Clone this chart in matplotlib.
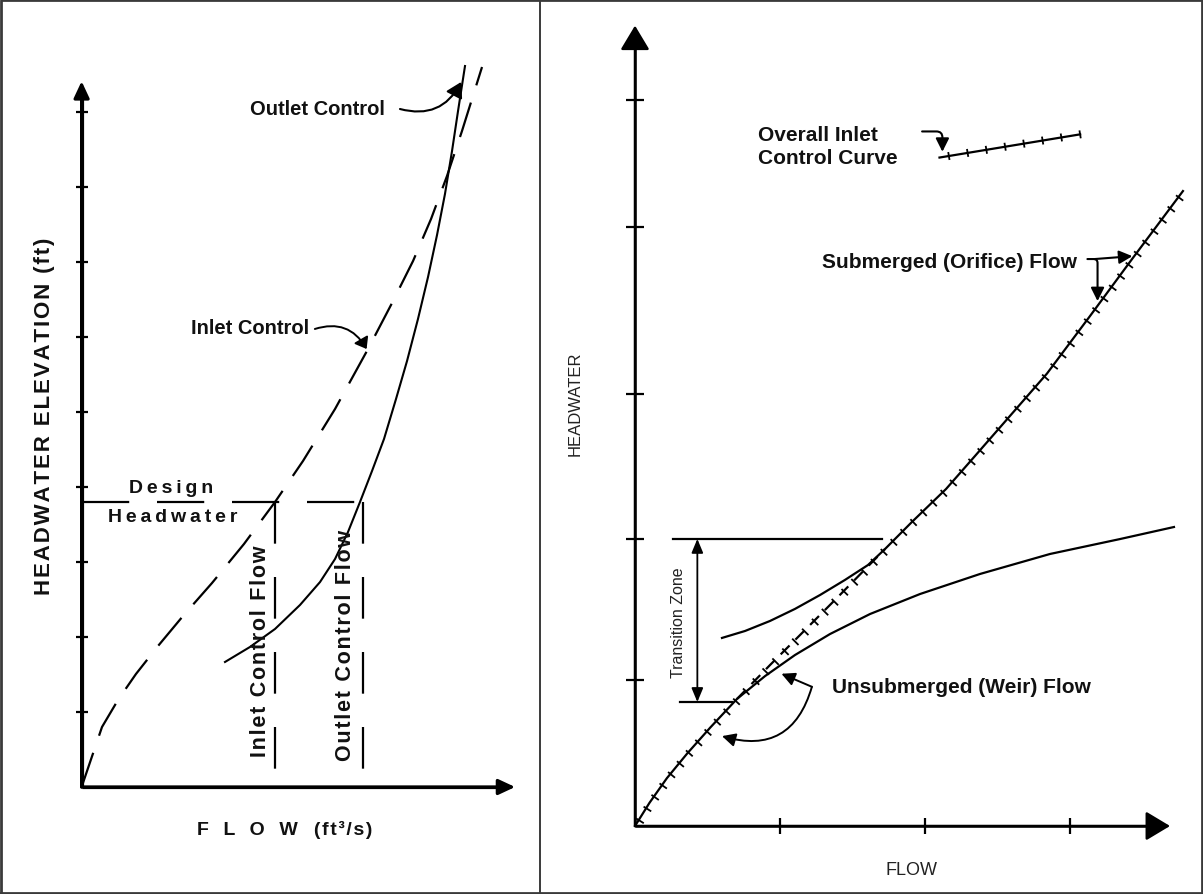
import numpy as np
import matplotlib
matplotlib.use("Agg")
import matplotlib.pyplot as plt
from matplotlib.lines import Line2D
from matplotlib.collections import LineCollection

plt.rcParams['lines.scale_dashes'] = False
plt.rcParams['font.family'] = ['Liberation Sans', 'DejaVu Sans']

# ---------------- Left diagram: inlet vs. outlet control ----------------
left_head_ticks = [1, 2, 3, 4, 5, 6, 7, 8, 9]
inlet_flow = [0.0, 0.272, 0.485, 0.725, 1.019, 1.352, 1.739, 2.165, 2.579, 2.952,
              3.379, 3.819, 4.139, 4.419, 4.659, 4.872, 5.072, 5.339]
inlet_head = [0.0, 0.800, 1.160, 1.507, 1.880, 2.280, 2.720, 3.240, 3.800, 4.347,
              5.040, 5.840, 6.453, 7.013, 7.573, 8.147, 8.747, 9.600]
outlet_flow = [1.912, 2.245, 2.579, 2.912, 3.179, 3.379, 3.552, 3.712, 3.872, 4.032,
               4.192, 4.339, 4.485, 4.619, 4.739, 4.845, 4.939, 5.019, 5.112]
outlet_head = [1.667, 1.867, 2.107, 2.427, 2.733, 3.040, 3.400, 3.800, 4.213, 4.640,
               5.173, 5.680, 6.240, 6.800, 7.360, 7.907, 8.480, 9.013, 9.613]
design_headwater = 3.80
inlet_control_flow = 2.58
outlet_control_flow = 3.75

# ---------------- Right diagram: inlet control regimes ----------------
right_head_ticks = [1.01, 1.98, 2.98, 4.13, 5.01]
right_flow_ticks = [1, 2, 3]
weir_flow = [0.0, 0.10, 0.22, 0.36, 0.52, 0.703, 0.897, 1.103, 1.345, 1.621, 1.966,
             2.379, 2.862, 3.345, 3.717]
weir_head = [0.0, 0.16, 0.33, 0.50, 0.68, 0.876, 1.034, 1.179, 1.324, 1.462, 1.600,
             1.738, 1.876, 1.979, 2.062]
orifice_flow = [0.600, 0.759, 0.931, 1.103, 1.276, 1.448, 1.607, 1.724, 1.910, 2.145,
                2.345, 2.841, 3.138, 3.428, 3.779]
orifice_head = [1.297, 1.345, 1.414, 1.497, 1.593, 1.697, 1.800, 1.910, 2.097, 2.324,
                2.552, 3.120, 3.517, 3.910, 4.379]
transition_flow = [0.703, 0.931, 1.159, 1.386, 1.724]
transition_head = [0.876, 1.110, 1.338, 1.566, 1.910]
transition_low, transition_high = 0.855, 1.98
key_flow = [2.10, 3.07]
key_head = [4.61, 4.77]

FIG_W, FIG_H = 1203, 895
fig = plt.figure(figsize=(FIG_W / 100, FIG_H / 100), dpi=100)
fig.patch.set_facecolor('white')

BOLD = dict(family=['Liberation Sans', 'DejaVu Sans'], fontweight='bold', color='#111111')


def tracked(s, sep='\u200a'):
    return sep.join(s)


def panel_axes(x0_px, width_px, origin_px, unit):
    ox, oy = origin_px
    ax = fig.add_axes([x0_px / FIG_W, 0, width_px / FIG_W, 1])
    ax.set_xlim((x0_px - ox) / unit, (x0_px + width_px - ox) / unit)
    ax.set_ylim(-(FIG_H - oy) / unit, oy / unit)
    ax.set_axis_off()
    return ax


def axis_arrow(ax, tip, lw, ms, hl, hw):
    ax.annotate('', xy=tip, xytext=(0, 0),
                arrowprops=dict(arrowstyle=f'-|>,head_length={hl},head_width={hw}',
                                lw=lw, color='black', shrinkA=0, shrinkB=0,
                                mutation_scale=ms))


def hatch(ax, xs, ys, spacing, lo, hi, lw=1.3):
    pts = ax.transData.transform(np.column_stack([xs, ys]))
    seg = np.diff(pts, axis=0)
    seglen = np.hypot(seg[:, 0], seg[:, 1])
    cum = np.concatenate([[0], np.cumsum(seglen)])
    marks = []
    for s in np.arange(spacing * 0.5, cum[-1], spacing):
        i = min(np.searchsorted(cum, s) - 1, len(seg) - 1)
        t = (s - cum[i]) / seglen[i]
        p = pts[i] + t * seg[i]
        d = seg[i] / seglen[i]
        n = np.array([d[1], -d[0]])
        a = ax.transData.inverted().transform(p - lo * n)
        b = ax.transData.inverted().transform(p + hi * n)
        marks.append([a, b])
    ax.add_collection(LineCollection(marks, colors='black', linewidths=lw))


# ======================= Left panel =======================
axL = panel_axes(0, 540, (81.6, 788), 75.0)
axL.plot([0, 0], [0, 9.3], color='black', lw=2.3, solid_capstyle='butt')
axis_arrow(axL, (0, 9.41), 2.3, 8.4, 1.2, 0.56)
axL.plot([0, 5.6], [0, 0], color='black', lw=2.3, solid_capstyle='butt')
axis_arrow(axL, (5.78, 0), 2.3, 8.4, 1.2, 0.56)
axL.plot(np.zeros(len(left_head_ticks)), left_head_ticks, ls='none',
         marker='_', ms=9, mew=1.6, color='black')

axL.plot(inlet_flow, inlet_head, color='black', lw=1.6, dashes=(26, 13))
axL.plot(outlet_flow, outlet_head, color='black', lw=1.5, solid_joinstyle='round')

axL.plot([0, outlet_control_flow], [design_headwater, design_headwater],
         color='black', lw=1.6, dashes=(34, 20))
for q in (inlet_control_flow, outlet_control_flow):
    axL.plot([q, q], [design_headwater, 0], color='black', lw=1.6, dashes=(30, 24))

axL.text(1.2, 3.99, tracked('Design', '\u2009'), ha='center', va='center', fontsize=14, **BOLD)
axL.text(1.21, 3.6, tracked('Headwater', '\u2009'), ha='center', va='center', fontsize=14, **BOLD)
axL.text(2.379, 1.82, tracked('Inlet Control Flow'), rotation=90, ha='center', va='center',
         fontsize=15.5, **BOLD)
axL.text(3.525, 1.90, tracked('Outlet Control Flow'), rotation=90, ha='center', va='center',
         fontsize=15.5, **BOLD)

axL.text(2.245, 9.05, 'Outlet Control', ha='left', va='center', fontsize=14.5, **BOLD)
axL.annotate('', xy=(5.06, 9.40), xytext=(4.245, 9.04),
             arrowprops=dict(arrowstyle='-|>,head_length=0.5,head_width=0.3', lw=1.5,
                             color='black', connectionstyle='arc3,rad=0.4',
                             shrinkA=0, shrinkB=0, mutation_scale=18))
axL.text(1.459, 6.13, 'Inlet Control', ha='left', va='center', fontsize=14.5, **BOLD)
axL.annotate('', xy=(3.80, 5.84), xytext=(3.11, 6.107),
             arrowprops=dict(arrowstyle='-|>,head_length=0.4,head_width=0.3', lw=1.4,
                             color='black', connectionstyle='arc3,rad=-0.4',
                             shrinkA=0, shrinkB=0, mutation_scale=16))

axL.text(-0.488, 4.96, tracked('HEADWATER ELEVATION (ft)'), rotation=90,
         ha='center', va='center', fontsize=16, **BOLD)
axL.text(2.71, -0.56, 'F  \u2009L  \u2009O  \u2009W   ' + tracked('(ft\u00b3/s)'),
         ha='center', va='center', fontsize=14, **BOLD)

# ======================= Right panel =======================
axR = panel_axes(540, 663, (635, 827), 145.0)
axR.plot([0, 0], [0, 5.4], color='black', lw=1.8, solid_capstyle='butt')
axis_arrow(axR, (0, 5.52), 1.8, 10, 1.5, 0.9)
axR.plot([0, 3.6], [0, 0], color='black', lw=1.8, solid_capstyle='butt')
axis_arrow(axR, (3.69, 0), 1.8, 10, 1.5, 0.9)
axR.plot(np.zeros(len(right_head_ticks)), right_head_ticks, ls='none',
         marker='_', ms=13, mew=1.6, color='black')
axR.plot(right_flow_ticks, np.zeros(len(right_flow_ticks)), ls='none',
         marker='|', ms=11, mew=1.6, color='black')

# weir and orifice flow branches
axR.plot(weir_flow, weir_head, color='black', lw=1.6, solid_joinstyle='round')
axR.plot(orifice_flow, orifice_head, color='black', lw=1.6, solid_joinstyle='round')
# overall inlet control curve: weir below, dashed transition, orifice above
axR.plot(transition_flow, transition_head, color='black', lw=1.6, dashes=(9, 6))
lower = [(x, y) for x, y in zip(weir_flow, weir_head) if x < transition_flow[0]]
upper = [(x, y) for x, y in zip(orifice_flow, orifice_head) if x > transition_flow[-1]]
overall = lower + list(zip(transition_flow, transition_head)) + upper
hatch(axR, [p[0] for p in overall], [p[1] for p in overall], 14, 3, 6)

# transition zone bracket
axR.plot([0.26, 1.70], [transition_high, transition_high], color='black', lw=1.6)
axR.plot([0.31, 0.67], [transition_low, transition_low], color='black', lw=1.6)
axR.annotate('', xy=(0.43, transition_high), xytext=(0.43, transition_low),
             arrowprops=dict(arrowstyle='<|-|>,head_length=0.6,head_width=0.25', lw=1.3,
                             color='black', shrinkA=0, shrinkB=0, mutation_scale=14))
axR.text(0.30, 1.41, 'Transition Zone', rotation=90, ha='center', va='center',
         fontsize=11.5, color='#222222')

# key sample of the overall curve
axR.plot(key_flow, key_head, color='black', lw=1.6)
hatch(axR, key_flow, key_head, 19, 4, 4)
axR.text(0.85, 4.69, 'Overall Inlet\nControl Curve', ha='left', va='center',
         fontsize=15, linespacing=1.25, **BOLD)
axR.annotate('', xy=(2.12, 4.65), xytext=(1.98, 4.79),
             arrowprops=dict(arrowstyle='-|>,head_length=0.5,head_width=0.25', lw=1.5,
                             color='black', connectionstyle='angle,angleA=0,angleB=90,rad=6',
                             shrinkA=0, shrinkB=0, mutation_scale=16))

axR.text(1.29, 3.89, 'Submerged (Orifice) Flow', ha='left', va='center', fontsize=15, **BOLD)
axR.annotate('', xy=(3.19, 3.62), xytext=(3.12, 3.91),
             arrowprops=dict(arrowstyle='-|>,head_length=0.5,head_width=0.25', lw=1.5,
                             color='black', connectionstyle='angle,angleA=0,angleB=90,rad=4',
                             shrinkA=0, shrinkB=0, mutation_scale=16))
axR.annotate('', xy=(3.43, 3.93), xytext=(3.17, 3.91),
             arrowprops=dict(arrowstyle='-|>,head_length=0.5,head_width=0.25', lw=1.5,
                             color='black', shrinkA=0, shrinkB=0, mutation_scale=16))

axR.text(1.36, 0.96, 'Unsubmerged (Weir) Flow', ha='left', va='center', fontsize=15, **BOLD)
axR.annotate('', xy=(1.01, 1.05), xytext=(1.22, 0.96),
             arrowprops=dict(arrowstyle='-|>,head_length=0.5,head_width=0.25', lw=1.4,
                             color='black', shrinkA=0, shrinkB=0, mutation_scale=16))
axR.annotate('', xy=(0.60, 0.62), xytext=(1.22, 0.96),
             arrowprops=dict(arrowstyle='-|>,head_length=0.5,head_width=0.25', lw=1.4,
                             color='black', connectionstyle='arc3,rad=-0.5',
                             shrinkA=0, shrinkB=0, mutation_scale=16))

axR.text(-0.414, 2.92, 'HEADWATER', rotation=90, ha='center', va='center',
         fontsize=12, color='#222222')
axR.text(1.91, -0.297, 'FLOW', ha='center', va='center', fontsize=13, color='#222222')

# frame around both diagrams
frame = dict(color='#3a3a3a', lw=2.0, transform=fig.transFigure)
fig.add_artist(Line2D([0.001, 0.999, 0.999, 0.001, 0.001],
                      [0.001, 0.001, 0.999, 0.999, 0.001], **frame))
fig.add_artist(Line2D([540 / FIG_W, 540 / FIG_W], [0, 1], color='#3a3a3a', lw=1.4,
                      transform=fig.transFigure))

fig.savefig('out.png', dpi=100)
